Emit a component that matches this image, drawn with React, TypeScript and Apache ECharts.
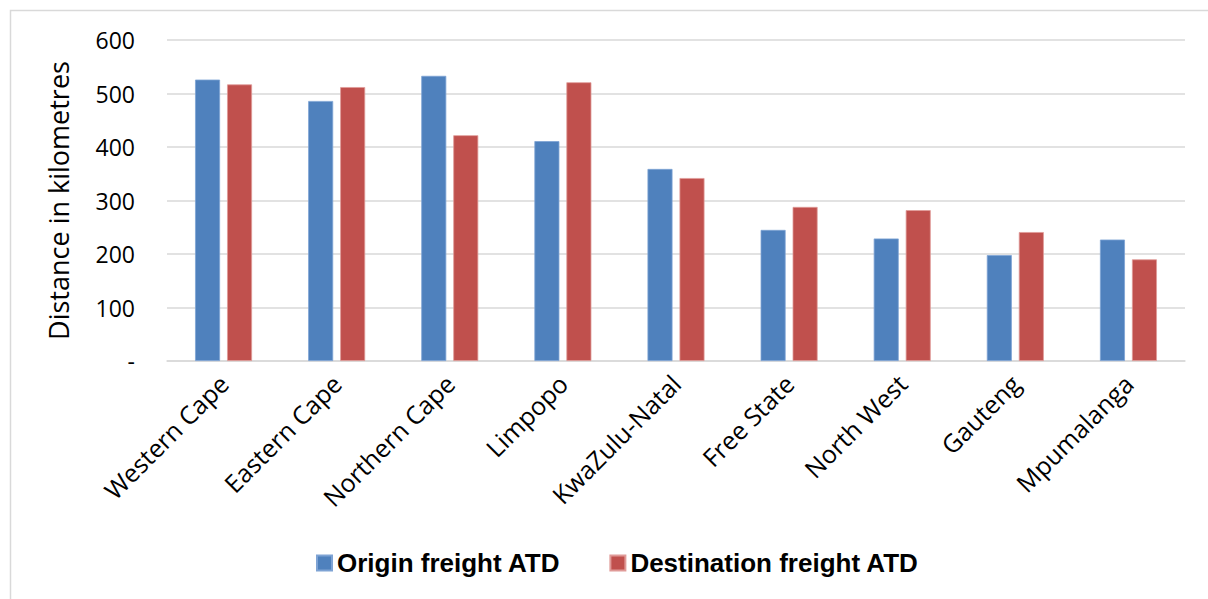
import React, { useEffect, useRef } from "react";
import * as echarts from "echarts";

const categories = ["Western Cape", "Eastern Cape", "Northern Cape", "Limpopo", "KwaZulu-Natal", "Free State", "North West", "Gauteng", "Mpumalanga"];
const originATD = [526, 486, 533, 411, 359, 245, 229, 198, 227];
const destinationATD = [517, 512, 422, 521, 342, 288, 282, 241, 190];
const seriesNames = ["Origin freight ATD", "Destination freight ATD"];
const yAxisTitle = "Distance in kilometres";

export default function App() {
  const ref = useRef<HTMLDivElement>(null);
  useEffect(() => {
    if (!ref.current) return;
    const chart = echarts.init(ref.current, undefined, { renderer: "svg" });
    const font = "'Open Sans', Lato, sans-serif";
    chart.setOption({
      animation: false,
      backgroundColor: "#ffffff",
      graphic: [
        {
          type: "rect",
          shape: { x: 10.5, y: 10.5, width: 1400, height: 800 },
          style: { fill: "none", stroke: "#d9d9d9", lineWidth: 1.5 },
          silent: true,
          z: -1,
        },
      ],
      grid: { left: 167, right: 23, top: 40, bottom: 238, containLabel: false },
      legend: {
        data: seriesNames,
        top: 545,
        left: 311,
        itemWidth: 15,
        itemHeight: 15,
        itemGap: 49,
        icon: "rect",
        textStyle: { fontFamily: "'Liberation Sans', Arial, sans-serif", fontWeight: "bold", fontSize: 26, color: "#000" },
      },
      xAxis: {
        type: "category",
        data: categories,
        axisLine: { lineStyle: { color: "#d9d9d9", width: 1.5 } },
        axisTick: { show: false },
        axisLabel: { rotate: 45, margin: 18, fontFamily: font, fontSize: 25, color: "#000", interval: 0 },
      },
      yAxis: {
        type: "value",
        min: 0,
        max: 600,
        interval: 100,
        name: yAxisTitle,
        nameLocation: "middle",
        nameGap: 95,
        nameTextStyle: { fontFamily: font, fontSize: 27, color: "#000" },
        axisLine: { show: false },
        axisTick: { show: false },
        axisLabel: {
          margin: 32,
          fontFamily: font,
          fontSize: 23,
          color: "#000",
          formatter: (v: number) => (v === 0 ? "-" : String(v)),
        },
        splitLine: { lineStyle: { color: "#d9d9d9", width: 1.5 } },
      },
      series: [
        {
          name: seriesNames[0],
          type: "bar",
          data: originATD,
          barWidth: 25,
          barGap: "28%",
          itemStyle: { color: "#4F81BD", borderColor: "#7ea3d4", borderWidth: 0.8 },
        },
        {
          name: seriesNames[1],
          type: "bar",
          data: destinationATD,
          barWidth: 25,
          itemStyle: { color: "#C0504D", borderColor: "#e09a98", borderWidth: 0.8 },
        },
      ],
    });
    return () => chart.dispose();
  }, []);
  return <div ref={ref} style={{ position: "absolute", left: 0, top: 0, width: 1208, height: 599 }} />;
}
